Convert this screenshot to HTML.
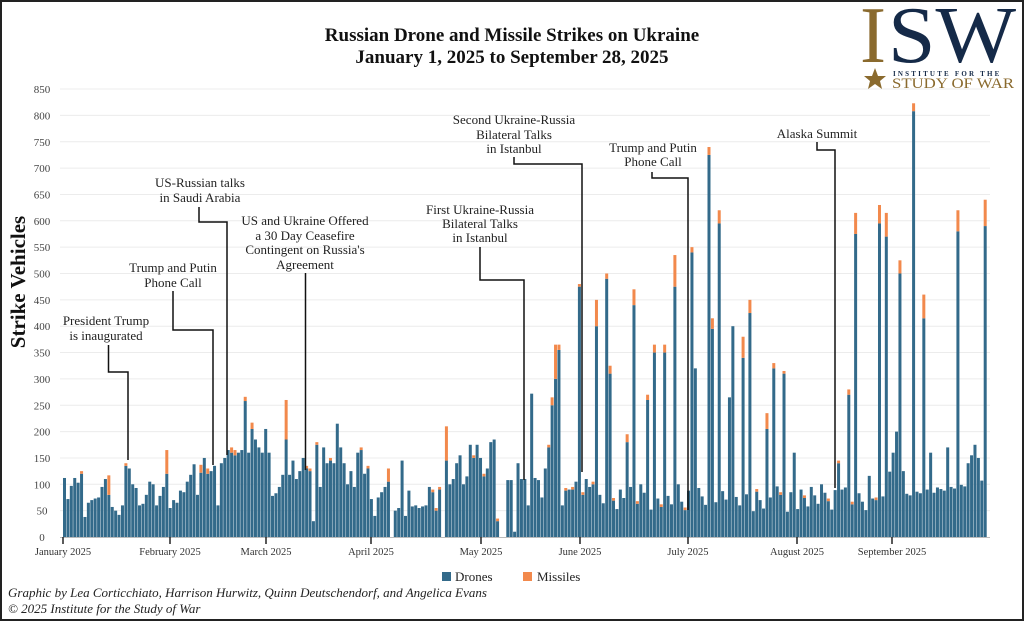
<!DOCTYPE html>
<html><head><meta charset="utf-8"><style>
html,body{margin:0;padding:0;background:#fff}
#wrap{position:relative;width:1020px;height:617px;border:2px solid #222;overflow:hidden;background:#fff}
svg text{font-family:"Liberation Serif",serif}
</style></head><body><div id="wrap">
<svg id="s" width="1020" height="617" viewBox="2 2 1020 617" xmlns="http://www.w3.org/2000/svg">
<g id="grid"></g>
<g id="bars"></g>
<text x="512" y="41" text-anchor="middle" font-size="19" font-weight="bold" fill="#111">Russian Drone and Missile Strikes on Ukraine</text>
<text x="512" y="63" text-anchor="middle" font-size="19" font-weight="bold" fill="#111">January 1, 2025 to September 28, 2025</text>
<!-- logo -->
<text x="860" y="62" font-size="80" fill="#8a6a2e" textLength="26" lengthAdjust="spacingAndGlyphs">I</text>
<text x="888" y="62" font-size="80" fill="#152a48" textLength="128" lengthAdjust="spacingAndGlyphs">SW</text>
<text x="893" y="76" font-size="7" font-weight="bold" fill="#152a48" font-family="Liberation Sans" letter-spacing="2.2">INSTITUTE FOR THE</text>
<text x="892" y="88" font-size="15" fill="#8a6a2e" textLength="122" lengthAdjust="spacingAndGlyphs">STUDY OF WAR</text>
<polygon points="875,68 878,76 886,76 880,81 882,89 875,84 868,89 870,81 864,76 872,76" fill="#8a6a2e"/>
<text transform="translate(25,282) rotate(-90)" text-anchor="middle" font-size="21" font-weight="bold" fill="#111">Strike Vehicles</text>
<g id="yl" font-size="11" fill="#444" text-anchor="middle"></g>
<g id="xt" font-size="10.5" fill="#333" text-anchor="middle"></g>
<g font-size="13" fill="#222" text-anchor="middle">
<text x="106" y="325">President Trump</text><text x="106" y="340">is inaugurated</text>
<text x="173" y="272">Trump and Putin</text><text x="173" y="287">Phone Call</text>
<text x="200" y="187">US-Russian talks</text><text x="200" y="202">in Saudi Arabia</text>
<text x="305" y="225">US and Ukraine Offered</text><text x="305" y="240">a 30 Day Ceasefire</text><text x="305" y="254">Contingent on Russia's</text><text x="305" y="269">Agreement</text>
<text x="480" y="214">First Ukraine-Russia</text><text x="480" y="228">Bilateral Talks</text><text x="480" y="242">in Istanbul</text>
<text x="514" y="124">Second Ukraine-Russia</text><text x="514" y="139">Bilateral Talks</text><text x="514" y="153">in Istanbul</text>
<text x="653" y="152">Trump and Putin</text><text x="653" y="166">Phone Call</text>
<text x="817" y="138">Alaska Summit</text>
</g>
<g fill="none" stroke="#111" stroke-width="1.5">
<polyline points="108.5,345 108.5,372 128,372 128,460"/>
<polyline points="173,291 173,330 213,330 213,465"/>
<polyline points="199,207 199,222 227,222 227,455"/>
<polyline points="305.5,273 305.5,470"/>
<polyline points="480,247 480,280 524,280 524,480"/>
<polyline points="514,157 514,164 582,164 582,472"/>
<polyline points="652,172 652,178 688,178 688,510"/>
<polyline points="817,142 817,150 835,150 835,488"/>
</g>
<rect x="442" y="572" width="9" height="9" fill="#336a8a"/>
<text x="455" y="581" font-size="13" fill="#222">Drones</text>
<rect x="523" y="572" width="9" height="9" fill="#f2894c"/>
<text x="537" y="581" font-size="13" fill="#222">Missiles</text>
<text x="8" y="597" font-size="13" font-style="italic" fill="#222">Graphic by Lea Corticchiato, Harrison Hurwitz, Quinn Deutschendorf, and Angelica Evans</text>
<text x="8" y="613" font-size="13" font-style="italic" fill="#222">© 2025 Institute for the Study of War</text>
</svg></div>
<script>
var NS="http://www.w3.org/2000/svg";
function el(p,t,a,txt){var e=document.createElementNS(NS,t);for(var k in a)e.setAttribute(k,a[k]);if(txt!==undefined)e.textContent=txt;p.appendChild(e);return e;}
var Y0=537,S=0.527;
var g=document.getElementById('grid'),yl=document.getElementById('yl');
for(var v=0;v<=850;v+=50){var y=Y0-v*S;if(v>0)el(g,'line',{x1:60,x2:990,y1:y,y2:y,stroke:'#ececec','stroke-width':1});el(yl,'text',{x:42,y:y+4},String(v));}
var xt=document.getElementById('xt');
el(xt,'line',{x1:60,x2:990,y1:Y0+0.5,y2:Y0+0.5,stroke:'#bbb','stroke-width':1});
[["January 2025",63],["February 2025",170],["March 2025",266],["April 2025",371],["May 2025",481],["June 2025",580],["July 2025",688],["August 2025",797],["September 2025",892]].forEach(function(t){
el(xt,'line',{x1:t[1],x2:t[1],y1:Y0,y2:Y0+7,stroke:'#222','stroke-width':1.5});el(xt,'text',{x:t[1],y:Y0+18},t[0]);});
var D=[112,72,97,112,103,120,38,65,70,73,75,95,110,80,57,50,42,60,135,130,100,93,60,63,80,105,100,60,78,95,120,
55,70,65,88,85,105,118,138,80,122,150,120,125,135,60,140,150,165,160,155,160,165,258,160,205,185,170,160,
205,160,78,83,95,118,185,118,145,110,125,150,130,125,30,175,95,170,140,145,140,215,170,140,100,125,95,160,165,120,130,
72,40,75,85,95,105,0,50,55,145,40,88,58,60,55,58,60,95,85,50,90,0,145,100,110,140,155,100,115,175,150,
175,150,115,130,180,185,30,0,0,108,108,10,140,110,110,60,272,112,108,75,130,170,250,300,355,60,88,90,90,105];
var M={13:37,5:5,18:5,30:45,40:15,42:10,49:10,50:10,53:8,55:12,65:75,71:5,72:5,74:5,78:5,87:5,89:5,95:25,108:5,109:5,110:5,112:65,120:5,123:5,127:5,142:5,143:15,144:65,145:10,147:5,149:5};
var O={151:[475,5],152:[80,5],153:[110,0],154:[95,0],155:[100,5],156:[400,50],159:[490,10],160:[310,15],165:[180,15],167:[440,30],171:[260,10],173:[350,15],176:[350,15],179:[475,60],180:[100,0],184:[540,10],185:[320,0],189:[725,15],190:[395,20],192:[595,25],195:[265,0],196:[400,0],199:[340,40],201:[425,25],206:[205,30],208:[320,10],211:[310,5],214:[160,0],227:[140,5],228:[90,0],230:[270,10],232:[575,40],239:[595,35],241:[570,45],243:[160,0],244:[200,0],245:[500,25],249:[808,15],252:[415,45],254:[160,0],259:[170,0],262:[580,40],265:[140,0],266:[155,0],267:[175,0],268:[150,0],270:[590,50]};
var b=document.getElementById('bars');
for(var d=0;d<271;d++){var dr,ms;
if(O[d]){dr=O[d][0];ms=O[d][1];}
else if(d<D.length){dr=D[d];ms=M[d]||0;}
else{dr=48+((d*37)%53);if(d>235)dr+=((d*13)%40);ms=(d%7==0)?5:0;}
var x=63+d*3.41;
if(dr>0)el(b,'rect',{x:x,y:Y0-dr*S,width:3.0,height:dr*S,fill:'#336a8a'});
if(ms>0)el(b,'rect',{x:x,y:Y0-(dr+ms)*S,width:3.0,height:ms*S,fill:'#f2894c'});}
</script>
</body></html>
